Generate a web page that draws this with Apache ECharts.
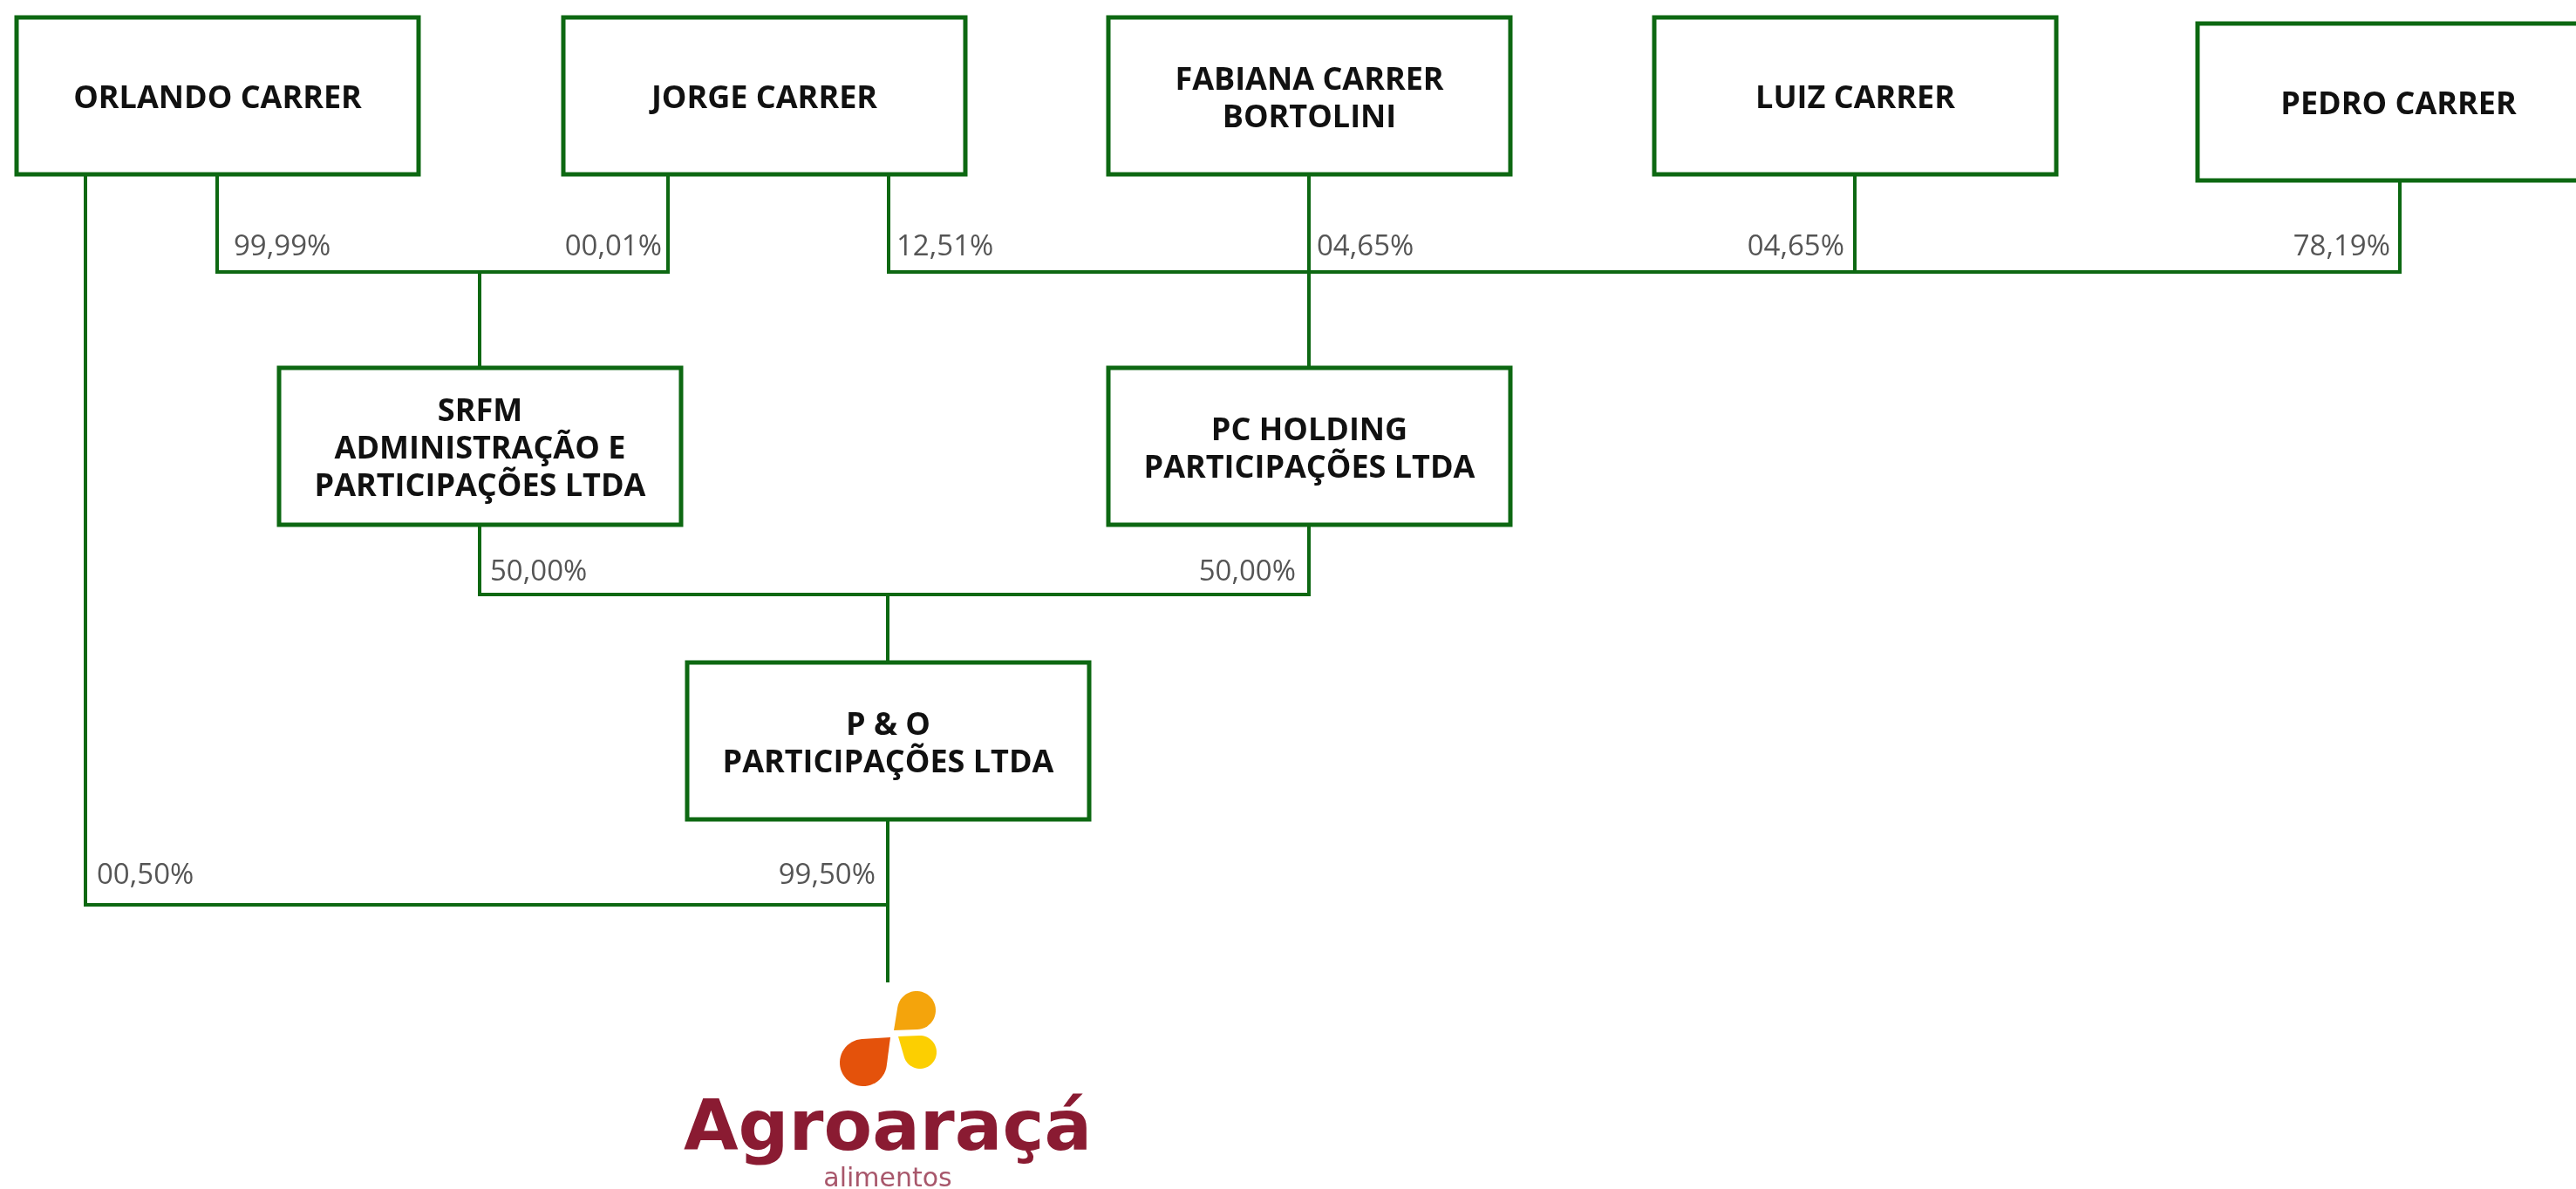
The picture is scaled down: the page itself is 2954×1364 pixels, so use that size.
<!DOCTYPE html>
<html><head><meta charset="utf-8">
<script src="https://cdn.jsdelivr.net/npm/echarts@6/dist/echarts.min.js"></script>
<style>html,body{margin:0;padding:0;background:#fff;}#chart{width:2954px;height:1364px;}</style>
</head><body><div id="chart"></div>
<script>
// ---------------- data ----------------
const entities = [
  'ORLANDO CARRER',
  'JORGE CARRER',
  'FABIANA CARRER\nBORTOLINI',
  'LUIZ CARRER',
  'PEDRO CARRER',
  'SRFM\nADMINISTRAÇÃO E\nPARTICIPAÇÕES LTDA',
  'PC HOLDING\nPARTICIPAÇÕES LTDA',
  'P & O\nPARTICIPAÇÕES LTDA',
  'Agroaraçá'
];
const linkOwner = [0, 1, 1, 2, 3, 4, 5, 6, 0, 7];
const linkOwned = [5, 5, 6, 6, 6, 6, 7, 7, 8, 8];
const linkShare = [99.99, 0.01, 12.51, 4.65, 4.65, 78.19, 50.00, 50.00, 0.50, 99.50];
const logoName = 'Agroaraçá';
const logoTagline = 'alimentos';

// ---------------- layout (diagram units) ----------------
const boxX = [19, 646, 1271, 1897, 2520, 320, 1271, 788];
const boxY = [20, 20, 20, 20, 27, 422, 422, 760];
const BOX_W = 461, BOX_H = 180;
const inletX = [250, 876, 1501, 2127, 2752, 550, 1501, 1018, 1018];
const inletY = [20, 20, 20, 20, 27, 422, 422, 760, 1127];
const busY = [0, 0, 0, 0, 0, 312, 312, 682, 1038];
const labelGap = [0, 0, 0, 0, 0, 28, 28, 25, 33];
const linkPortX = [249, 766, 1019, 1501, 2127, 2752, 550, 1501, 98, 1018];
const labelSide = ['right', 'left', 'right', 'right', 'left', 'left', 'right', 'left', 'right', 'left'];
const labelPad = [19, 7, 9, 9, 12, 11, 12, 15, 13, 14];
const dropTip = [[1025, 1182], [1021, 1190], [1030, 1189]];
const dropCenter = [[1051, 1159], [990, 1219], [1055, 1207]];
const dropRadius = [22, 27, 19];
const dropColor = ['#F4A40C', '#E4520B', '#FCCF01'];

// ---------------- styles ----------------
const LINE = '#0d6812';
const BOX_FONT = 'Open Sans';

function fmtPct(v) {
  return v.toFixed(2).padStart(5, '0').replace('.', ',') + '%';
}

const chart = echarts.init(document.getElementById('chart'), null, { renderer: 'canvas' });

const connectorSeries = {
  type: 'custom', coordinateSystem: 'cartesian2d', silent: true, z: 1,
  data: linkShare.map((v, i) => [i, 0]),
  renderItem(params, api) {
    const i = params.dataIndex;
    const s = linkOwner[i], t = linkOwned[i];
    const x0 = linkPortX[i], y0 = boxY[s] + BOX_H, yb = busY[t], xt = inletX[t];
    return {
      type: 'polyline',
      shape: { points: [api.coord([x0, y0]), api.coord([x0, yb]), api.coord([xt, yb])] },
      style: { stroke: LINE, lineWidth: 4, fill: null, lineJoin: 'miter', lineCap: 'square' }
    };
  }
};

const owned = [...new Set(linkOwned)];
const inletSeries = {
  type: 'custom', coordinateSystem: 'cartesian2d', silent: true, z: 1,
  data: owned.map((t) => [t, 0]),
  renderItem(params, api) {
    const t = owned[params.dataIndex];
    const a = api.coord([inletX[t], busY[t]]), b = api.coord([inletX[t], inletY[t]]);
    return {
      type: 'line',
      shape: { x1: a[0], y1: a[1], x2: b[0], y2: b[1] },
      style: { stroke: LINE, lineWidth: 4 }
    };
  }
};

const boxSeries = {
  type: 'custom', coordinateSystem: 'cartesian2d', silent: true, z: 2,
  data: boxX.map((v, i) => [i, 0]),
  renderItem(params, api) {
    const i = params.dataIndex;
    const p0 = api.coord([boxX[i], boxY[i]]);
    const p1 = api.coord([boxX[i] + BOX_W, boxY[i] + BOX_H]);
    return {
      type: 'group',
      children: [
        { type: 'rect', shape: { x: p0[0], y: p0[1], width: p1[0] - p0[0], height: p1[1] - p0[1] },
          style: { fill: '#ffffff', stroke: LINE, lineWidth: 5 } },
        { type: 'text', style: {
            text: entities[i], x: (p0[0] + p1[0]) / 2, y: (p0[1] + p1[1]) / 2 + 4,
            fill: '#111111', fontFamily: BOX_FONT, fontWeight: 'bold', fontSize: 36,
            lineHeight: 43, align: 'center', verticalAlign: 'middle' } }
      ]
    };
  }
};

const labelSeries = {
  type: 'custom', coordinateSystem: 'cartesian2d', silent: true, z: 3,
  data: linkShare.map((v, i) => [i, 0]),
  renderItem(params, api) {
    const i = params.dataIndex;
    const t = linkOwned[i];
    const right = labelSide[i] === 'right';
    const p = api.coord([linkPortX[i] + (right ? labelPad[i] : -labelPad[i]), busY[t] - labelGap[t]]);
    return {
      type: 'text',
      style: { text: fmtPct(linkShare[i]), x: p[0], y: p[1], fill: '#555555',
        fontFamily: 'Open Sans', fontSize: 33, align: right ? 'left' : 'right', verticalAlign: 'middle' }
    };
  }
};

function dropPoints(api, k) {
  const T = dropTip[k], C = dropCenter[k], r = dropRadius[k];
  const dx = T[0] - C[0], dy = T[1] - C[1];
  const d = Math.sqrt(dx * dx + dy * dy);
  const th = Math.atan2(dy, dx);
  const al = Math.acos(Math.min(0.999, r / d));
  const pts = [api.coord(T)];
  const steps = 40;
  const start = th + al, span = 2 * Math.PI - 2 * al;
  for (let j = 0; j <= steps; j++) {
    const a = start + span * j / steps;
    pts.push(api.coord([C[0] + r * Math.cos(a), C[1] + r * Math.sin(a)]));
  }
  return pts;
}

const logoSeries = {
  type: 'custom', coordinateSystem: 'cartesian2d', silent: true, z: 3,
  data: [[0, 0]],
  renderItem(params, api) {
    const children = dropColor.map((c, k) => ({
      type: 'polygon', shape: { points: dropPoints(api, k), smooth: 0 }, style: { fill: c }
    }));
    const tp = api.coord([inletX[8], 1298]);
    const sp = api.coord([inletX[8], 1353]);
    children.push({ type: 'text', style: { text: logoName, x: tp[0], y: tp[1], fill: '#8a1b32',
      fontFamily: 'DejaVu Sans', fontWeight: 'bold', fontSize: 81, align: 'center', verticalAlign: 'middle' } });
    children.push({ type: 'text', style: { text: logoTagline, x: sp[0], y: sp[1], fill: '#a8576b',
      fontFamily: 'DejaVu Sans', fontSize: 30, align: 'center', verticalAlign: 'middle' } });
    return { type: 'group', children };
  }
};

chart.setOption({
  animation: false,
  backgroundColor: '#ffffff',
  grid: { left: 0, right: 0, top: 0, bottom: 0 },
  xAxis: { type: 'value', min: 0, max: 2954, show: false },
  yAxis: { type: 'value', min: 0, max: 1364, inverse: true, show: false },
  series: [connectorSeries, inletSeries, boxSeries, labelSeries, logoSeries]
});
</script>
</body></html>
